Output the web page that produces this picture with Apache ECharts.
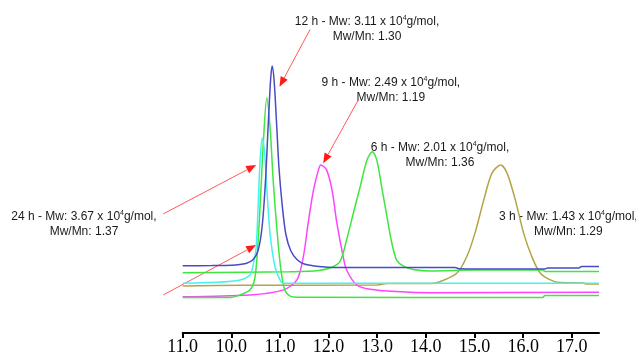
<!DOCTYPE html>
<html>
<head>
<meta charset="utf-8">
<script src="https://cdn.jsdelivr.net/npm/echarts@6/dist/echarts.min.js"></script>
<style>
  html, body { margin: 0; padding: 0; background: #fff; }
  #main { width: 636px; height: 356px; }
</style>
</head>
<body>
<div id="main"></div>
<script>
// elution volume axis (first label is printed as 11.0 in the original)
const xTicks = [9, 10, 11, 12, 13, 14, 15, 16, 17];
const tickLabels = ['11.0', '10.0', '11.0', '12.0', '13.0', '14.0', '15.0', '16.0', '17.0'];

// detector traces [elution, signal]
const trace12h = [[9.0,22.4],[9.6,22.5],[10.0,22.6],[10.3,23.2],[10.45,24.5],[10.55,27.5],[10.63,35],[10.7,50],[10.76,70],[10.81,85],[10.84,89],[10.88,84],[10.93,70],[10.98,55],[11.05,42],[11.12,33],[11.22,27.5],[11.35,24.5],[11.5,23],[11.8,22.2],[12.3,21.8],[13.5,21.8],[14.6,21.8],[14.7,21.4],[15.5,21.3],[16.45,21.3],[16.5,21.7],[17.15,21.7],[17.2,22.2],[17.56,22.2]];
const trace24h = [[9.0,16.6],[9.7,16.9],[10.18,17.7],[10.38,19.3],[10.45,22.7],[10.51,28.5],[10.55,42],[10.59,57],[10.635,65],[10.68,61],[10.73,48],[10.8,32.5],[10.9,22],[11.0,17.7],[11.06,16.6],[12.0,16.6],[17.56,16.6]];
const traceTall = [[9.0,11.8],[9.98,11.8],[10.18,12.7],[10.38,14.3],[10.48,18],[10.54,28],[10.6,45],[10.66,64],[10.73,78.4],[10.8,67.7],[10.86,51],[10.94,34],[11.02,21],[11.1,14.3],[11.21,12.3],[11.41,11.9],[16.4,11.8],[16.45,12.5],[17.56,12.5]];
const trace9h = [[9.0,12.1],[10.38,12.7],[11.06,14.3],[11.35,17.7],[11.48,25.4],[11.58,36.7],[11.69,47.7],[11.79,54.3],[11.84,56],[11.96,54.3],[12.07,47.7],[12.17,36.7],[12.3,25.4],[12.37,21],[12.58,16],[12.85,14.6],[13.4,13.8],[14.09,13.4],[17.56,13.6]];
const trace6h = [[9.0,20.1],[11.2,20.4],[11.8,20.8],[12.09,22.1],[12.24,24],[12.37,31],[12.51,40],[12.65,48.8],[12.79,57.7],[12.9,60.4],[12.99,57.7],[13.09,48.8],[13.2,38.8],[13.3,30],[13.4,24.3],[13.54,22.3],[13.74,21.2],[14.09,20.7],[15.0,21],[16.4,21],[16.45,20.5],[17.56,20.5]];
const trace3h = [[9.0,15.7],[10.2,15.9],[13.0,16.0],[13.2,16.5],[14.09,16.5],[14.29,17.1],[14.64,20],[14.84,25.4],[15.01,33.3],[15.19,44.3],[15.36,53.3],[15.54,56],[15.67,53.3],[15.84,44.3],[16.01,33.3],[16.18,25.4],[16.35,20],[16.56,17.7],[16.76,16.8],[17.24,16.7],[17.3,16.3],[17.56,16.3]];

// annotations: text centre and arrows, in data units
const notes = [
  { pos: [12.79, 101.3], head: '12 h - Mw: 3.11 x 10', tail: 'g/mol,', pdi: 'Mw/Mn: 1.30' },
  { pos: [13.28, 80.8], head: '9 h - Mw: 2.49 x 10', tail: 'g/mol,', pdi: 'Mw/Mn: 1.19' },
  { pos: [14.29, 59.2], head: '6 h - Mw: 2.01 x 10', tail: 'g/mol,', pdi: 'Mw/Mn: 1.36' },
  { pos: [16.93, 36.3], head: '3 h - Mw: 1.43 x 10', tail: 'g/mol,', pdi: 'Mw/Mn: 1.29' },
  { pos: [6.97, 36.2], head: '24 h - Mw: 3.67 x 10', tail: 'g/mol,', pdi: 'Mw/Mn: 1.37' }
];
const arrows = [
  [[11.62, 101.2], [10.99, 82.1]],
  [[12.61, 77.7], [11.89, 56.6]],
  [[8.60, 39.7], [10.51, 56.0]],
  [[8.60, 12.7], [10.51, 29.3]]
];

function trace(name, data, color) {
  return {
    name, type: 'line', data, showSymbol: false, smooth: 0.3,
    lineStyle: { color, width: 1.5 }, itemStyle: { color }, silent: true
  };
}

const chart = echarts.init(document.getElementById('main'));
chart.setOption({
  animation: false,
  backgroundColor: '#fff',
  grid: { left: 182.7, right: 37, top: 0, bottom: 23 },
  xAxis: {
    type: 'value', min: 9, max: 17.56, interval: 1,
    splitLine: { show: false },
    axisLine: { lineStyle: { color: '#000', width: 2 } },
    axisTick: { customValues: xTicks, length: 5, lineStyle: { color: '#000', width: 2 } },
    axisLabel: {
      customValues: xTicks, margin: 5,
      color: '#000', fontFamily: 'Liberation Serif', fontSize: 18,
      formatter: v => tickLabels[Math.round(v - 9)] || ''
    }
  },
  yAxis: { type: 'value', min: 0, max: 111, show: false },
  series: [
    trace('3 h', trace3h, '#b3a448'),
    trace('9 h', trace9h, '#ff44ff'),
    trace('tall', traceTall, '#3fe63f'),
    trace('6 h', trace6h, '#3fe63f'),
    trace('24 h', trace24h, '#44f2f2'),
    trace('12 h', trace12h, '#4a4ac6')
  ]
});

const toPx = p => chart.convertToPixel({ seriesIndex: 0 }, p);
const graphics = [];
notes.forEach(n => {
  const [cx, cy] = toPx(n.pos);
  graphics.push({
    type: 'text', x: cx, y: cy, silent: true,
    style: {
      text: '{t|' + n.head + '}{s|4}{t|' + n.tail + '}\n{t|' + n.pdi + '}',
      align: 'center', verticalAlign: 'middle',
      textAlign: 'center', textVerticalAlign: 'middle',
      rich: {
        t: { fontFamily: 'Liberation Sans', fontSize: 12, lineHeight: 15, fill: '#1a1a1a' },
        s: { fontFamily: 'Liberation Sans', fontSize: 7, lineHeight: 15, fill: '#1a1a1a', verticalAlign: 'top', padding: [0, 0, 0, 0] }
      }
    }
  });
});
arrows.forEach(([a, b]) => {
  const p1 = toPx(a), p2 = toPx(b);
  const dx = p2[0] - p1[0], dy = p2[1] - p1[1];
  const len = Math.hypot(dx, dy), ux = dx / len, uy = dy / len;
  const hl = 10, hw = 4;
  const base = [p2[0] - ux * hl, p2[1] - uy * hl];
  graphics.push({
    type: 'line', silent: true,
    shape: { x1: p1[0], y1: p1[1], x2: base[0], y2: base[1] },
    style: { stroke: '#ff5a5a', lineWidth: 1 }
  });
  graphics.push({
    type: 'polygon', silent: true,
    shape: { points: [p2, [base[0] - uy * hw, base[1] + ux * hw], [base[0] + uy * hw, base[1] - ux * hw]] },
    style: { fill: '#ff1a1a' }
  });
});
chart.setOption({ graphic: graphics });
</script>
</body>
</html>
